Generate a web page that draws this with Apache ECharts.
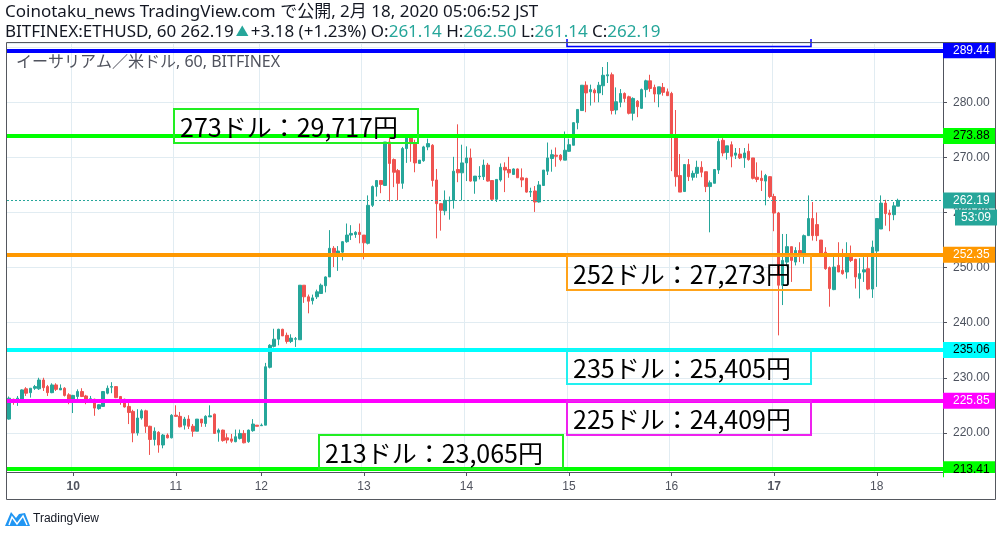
<!DOCTYPE html>
<html><head><meta charset="utf-8">
<script src="https://cdn.jsdelivr.net/npm/echarts@6/dist/echarts.min.js"></script>
<style>html,body{margin:0;padding:0;background:#fff}#c{width:1002px;height:537px}</style>
</head><body><div id="c"></div>
<script>
// ---- data (hourly ETH/USD candles) ----
const opens = [222.5,226.1,225.9,226.0,228.0,227.3,228.1,228.0,229.6,228.4,227.3,228.7,227.8,228.1,226.9,226.1,226.6,227.5,226.7,225.9,226.1,224.4,224.8,227.2,228.3,228.4,226.6,226.1,224.8,223.9,220.0,222.7,224.0,221.2,218.8,220.1,217.8,219.6,219.1,223.2,223.0,221.4,222.5,221.2,220.3,222.5,221.7,222.9,223.4,220.1,220.5,219.1,218.9,218.4,219.0,219.9,218.4,220.4,221.4,221.3,221.4,231.9,235.7,237.0,238.8,237.7,236.6,237.0,236.9,246.8,244.7,244.0,244.7,245.3,246.7,248.3,253.5,252.5,252.8,254.7,255.9,256.0,256.4,255.9,254.4,261.3,264.7,265.8,264.9,272.8,269.6,267.6,265.3,271.6,273.6,272.5,268.9,269.4,271.9,272.2,265.9,261.6,260.3,262.1,262.2,267.8,267.2,269.0,269.9,265.7,266.5,266.5,268.6,265.8,262.4,265.9,268.2,267.8,266.9,267.9,266.3,266.2,263.7,263.9,261.9,264.9,267.5,269.8,270.4,270.4,269.5,271.1,272.2,276.3,278.5,283.1,281.9,282.2,281.7,283.0,284.8,285.0,278.6,280.0,281.6,281.0,278.0,280.2,278.9,282.3,283.9,282.7,281.5,282.7,281.9,281.6,273.8,266.7,263.8,268.7,266.4,267.1,268.2,267.4,264.7,265.3,267.7,273.1,270.9,272.3,270.4,270.6,269.9,271.1,269.9,266.4,266.2,265.7,266.5,262.9,259.9,246.8,251.0,253.8,251.0,253.1,252.4,255.8,258.9,257.8,255.0,252.8,250.0,246.0,250.4,249.5,249.2,252.4,251.5,248.0,249.2,249.8,246.1,253.0,257.0,261.7,259.9,259.6,261.14];
const closes = [226.3,225.8,226.3,227.8,227.2,228.1,228.4,229.6,228.2,227.3,228.7,227.9,228.1,226.8,226.0,226.8,227.5,226.6,225.9,226.2,224.5,225.1,227.5,228.1,228.4,226.4,226.1,224.7,223.7,220.0,222.7,224.0,221.2,218.8,220.3,217.8,219.6,219.1,223.2,223.0,221.1,222.5,221.2,220.3,222.5,221.8,223.0,223.1,219.9,220.5,218.6,218.7,218.5,219.3,219.9,218.2,220.5,221.6,221.2,221.4,232.0,235.9,237.0,238.8,237.6,236.6,237.2,237.1,246.8,244.7,243.9,244.5,245.6,246.8,248.3,253.5,252.7,253.0,254.7,255.9,256.2,256.4,256.0,254.5,261.3,264.7,265.8,265.1,272.8,268.9,267.3,265.3,271.6,273.6,272.5,269.0,269.5,271.9,272.5,265.8,261.6,260.4,262.2,262.2,267.5,267.2,269.0,269.9,265.7,266.6,266.6,268.6,265.7,262.4,266.0,268.2,267.7,267.2,267.9,266.3,265.9,263.7,263.8,261.9,265.0,267.7,269.9,270.5,270.2,269.6,271.3,272.3,276.3,278.7,283.1,281.7,282.3,281.7,283.1,284.9,285.0,278.5,280.1,281.6,280.7,278.0,280.7,279.2,282.3,283.9,282.5,281.5,282.8,281.8,281.2,273.8,266.5,263.7,268.7,266.5,267.1,268.2,267.3,264.7,265.4,267.8,272.9,270.8,272.1,270.2,270.8,269.9,270.8,269.6,266.2,266.0,265.8,266.7,262.9,259.9,246.8,251.3,253.8,251.3,253.1,252.4,255.8,258.9,255.8,255.8,252.5,249.8,246.2,250.1,249.2,248.9,252.5,251.3,248.3,248.9,249.6,246.1,253.7,258.9,261.7,259.8,259.6,261.2,262.19];
const lows = [222.4,225.1,224.9,225.9,226.7,226.4,227.8,227.8,227.6,226.7,227.2,227.6,227.8,226.6,225.2,223.6,226.1,226.5,225.2,225.9,223.1,224.2,224.7,227.0,227.2,226.3,225.1,224.6,221.6,218.3,219.5,222.4,220.0,216.0,217.7,216.4,217.2,219.0,219.0,222.9,221.0,220.6,220.7,219.3,220.3,221.1,221.1,222.9,219.8,218.4,218.4,218.1,218.2,218.3,218.8,218.1,218.2,220.2,221.2,221.3,221.4,231.7,235.5,235.9,237.6,236.2,236.3,235.6,236.9,243.6,241.7,243.3,244.3,245.2,245.5,248.3,250.1,249.4,251.3,254.5,255.0,255.4,254.4,251.5,254.2,261.0,262.9,263.5,264.8,262.0,264.6,262.2,264.3,269.0,269.2,267.3,268.9,269.2,271.3,264.7,255.3,256.7,259.5,258.7,260.7,265.5,262.2,265.7,265.6,263.4,266.0,265.9,265.6,262.2,261.9,265.6,263.7,266.3,266.9,266.3,264.6,263.6,262.8,260.1,261.8,264.9,266.8,267.4,268.3,269.3,269.5,271.0,272.2,275.1,278.5,278.2,279.4,280.0,280.0,281.3,283.5,277.8,277.8,279.1,280.0,277.8,276.7,277.3,278.8,280.9,281.9,280.0,279.1,281.2,281.2,267.5,264.7,263.7,263.8,265.7,265.8,266.3,266.4,263.7,256.4,265.3,267.0,270.2,269.6,268.2,269.7,269.7,268.1,269.4,266.0,265.5,263.9,261.3,262.6,256.6,237.7,243.2,250.2,247.4,250.4,251.0,250.7,255.8,254.9,254.8,252.4,249.6,242.9,245.9,249.2,248.7,248.0,251.0,246.2,244.4,247.4,245.9,244.5,246.5,257.0,257.6,256.6,258.6,261.14];
const highs = [226.6,226.2,226.7,227.9,228.3,228.1,228.7,230.0,230.0,228.7,229.0,229.0,228.8,228.3,227.2,226.9,227.9,228.1,226.9,226.7,226.2,225.2,227.6,228.6,229.2,228.4,226.7,226.2,225.4,224.2,224.3,224.3,224.2,221.3,221.0,220.3,219.8,219.9,223.4,225.0,223.8,222.9,223.2,221.6,222.5,222.5,223.2,225.0,223.5,220.8,220.6,219.9,219.8,220.6,220.6,220.5,220.6,222.5,221.4,221.7,232.7,236.1,238.9,238.9,238.9,238.2,237.9,237.4,246.8,246.8,245.1,245.1,246.0,247.1,248.4,256.8,253.9,253.9,254.8,258.0,257.7,256.6,258.0,255.9,263.1,264.9,265.9,265.9,272.8,273.6,269.8,267.9,271.9,273.7,273.7,273.2,269.5,272.1,273.4,272.4,267.9,261.7,264.0,262.9,270.1,276.0,272.3,272.0,271.6,266.6,268.4,269.6,269.0,265.8,266.0,268.9,269.1,270.1,268.0,268.0,268.0,266.3,264.5,264.8,265.7,267.7,272.7,271.4,271.8,270.6,274.7,273.4,276.4,278.7,283.1,283.8,283.2,282.5,283.7,286.4,287.3,285.4,282.7,282.4,281.8,281.2,280.9,280.4,282.5,284.1,285.0,283.2,282.8,283.5,282.5,281.9,278.6,270.6,268.8,269.7,267.6,269.4,269.3,267.4,265.8,267.9,273.4,273.5,272.1,272.9,271.7,271.7,271.7,272.5,269.9,269.1,267.6,267.0,266.6,263.4,260.1,256.1,256.1,253.8,253.7,254.6,256.0,263.1,261.9,260.0,255.0,253.7,250.2,252.2,254.6,253.4,254.6,254.0,251.6,251.7,251.9,252.2,254.9,258.9,263.1,262.3,260.5,261.9,262.50];
const dayLabels = ['10','11','12','13','14','15','16','17','18'];
const dayStartIdx = [15,39,59,83,107,131,155,179,203];
const boldDays = ['10','17'];
const emptySlots = 10;
const levels = [289.44, 273.88, 252.35, 235.06, 225.85, 213.41];
const levelColors = ['#0000ff','#00ff00','#ff9800','#00ffff','#ff00ff','#00ff00'];
const levelTextColors = ['#ffffff','#000000','#ffffff','#000000','#ffffff','#000000'];
const lastPrice = 262.19;
const countdown = '53:09';
const noteTexts = ['273ドル：29,717円','252ドル：27,273円','235ドル：25,405円','225ドル：24,409円','213ドル：23,065円'];
const noteColors = ['#22ee22','#ffa31a','#22f0f0','#ee22ee','#22ee22'];
const headerLine1 = 'Coinotaku_news TradingView.com で公開, 2月 18, 2020 05:06:52 JST';
const symbolText = 'BITFINEX:ETHUSD, 60 262.19';
const changeText = '+3.18 (+1.23%)';
const ohlcLabels = ['O:','H:','L:','C:'];
const ohlcValues = ['261.14','262.50','261.14','262.19'];
const paneTitle = 'イーサリアム／米ドル, 60, BITFINEX';

// ---- build ----
const UP = '#26a69a', DOWN = '#ef5350';
const JP = '"Noto Sans CJK JP", "Noto Sans", sans-serif';
const HD = '"Noto Sans", "Noto Sans CJK JP", sans-serif';
const N = opens.length + emptySlots;
const categories = [];
for (let i = 0; i < N; i++) {
  const j = dayStartIdx.indexOf(i);
  categories.push(j >= 0 ? dayLabels[j] : '');
}
const candles = opens.map((o, i) => [o, closes[i], lows[i], highs[i]]);
const isDay = (i) => dayStartIdx.indexOf(i) >= 0;

const markData = levels.map((v, i) => ({
  yAxis: v,
  lineStyle: { color: levelColors[i], width: 4, type: 'solid', opacity: 1 },
  label: { show: true, position: 'end', distance: 0, formatter: v.toFixed(2),
    backgroundColor: levelColors[i], color: levelTextColors[i], fontSize: 12,
    fontFamily: 'Liberation Sans, Arial, sans-serif', padding: [2, 6, 2, 10], lineHeight: 12 }
}));
markData.push({
  yAxis: lastPrice,
  lineStyle: { color: UP, width: 1, type: [2, 2], opacity: 1 },
  label: { show: true, position: 'end', distance: 0, formatter: lastPrice.toFixed(2),
    backgroundColor: UP, color: '#fff', fontSize: 12,
    fontFamily: 'Liberation Sans, Arial, sans-serif', padding: [2, 6, 2, 10], lineHeight: 12 }
});

const chart = echarts.init(document.getElementById('c'), null, { renderer: 'canvas' });
const option = {
  animation: false,
  backgroundColor: '#fff',
  grid: { left: 7, right: 59, top: 43, bottom: 65, containLabel: false },
  xAxis: {
    type: 'category', data: categories, boundaryGap: true,
    axisLine: { show: true, lineStyle: { color: '#50535e', width: 1 } },
    axisTick: { show: true, alignWithLabel: true, length: 4, interval: (i) => isDay(i), lineStyle: { color: '#50535e' } },
    axisLabel: { show: true, interval: (i) => isDay(i), margin: 9, color: '#50535e', fontSize: 12,
      fontFamily: 'Liberation Sans, Arial, sans-serif',
      formatter: (v) => boldDays.indexOf(v) >= 0 ? '{b|' + v + '}' : v,
      rich: { b: { fontWeight: 'bold', fontSize: 12, color: '#50535e', fontFamily: 'Liberation Sans, Arial, sans-serif' } } },
    splitLine: { show: true, interval: (i) => isDay(i), lineStyle: { color: '#e1ecf2', width: 1 } }
  },
  yAxis: {
    type: 'value', position: 'right', min: 212.9, max: 290.76, splitNumber: 8, scale: true,
    axisLine: { show: true, lineStyle: { color: '#50535e', width: 1 } },
    axisTick: { show: true, length: 4, inside: false, lineStyle: { color: '#50535e' } },
    axisLabel: { show: true, margin: 10, color: '#4c525e', fontSize: 12, showMinLabel: false, showMaxLabel: false,
      fontFamily: 'Liberation Sans, Arial, sans-serif',
      formatter: (v) => (v > 285 || v < 215) ? '' : v.toFixed(2) },
    splitLine: { show: true, lineStyle: { color: '#e1ecf2', width: 1 } }
  },
  series: [{
    type: 'candlestick', data: candles, barWidth: 3,
    itemStyle: { color: UP, color0: DOWN, borderColor: UP, borderColor0: DOWN, borderWidth: 1 },
    markLine: { silent: true, symbol: ['none', 'none'], animation: false, precision: 2, data: markData }
  }]
};
chart.setOption(option);

// overlay elements
const yLast = chart.convertToPixel({ gridIndex: 0 }, [0, lastPrice])[1];
const noteBoxes = [
  { x: 174, y: 109 }, { x: 567, y: 256 }, { x: 567, y: 350 }, { x: 567, y: 401 }, { x: 319, y: 435 }
];
const g = [];
g.push({ type: 'rect', shape: { x: 6.5, y: 42.5, width: 989, height: 457 }, style: { fill: 'none', stroke: '#55585f', lineWidth: 1 }, z: 50 });
g.push({ type: 'rect', shape: { x: 944, y: 473, width: 51, height: 26 }, style: { fill: '#fff' }, z: 40 });
g.push({ type: 'text', x: 955, y: yLast + 9, style: { text: countdown, fill: '#fff', backgroundColor: UP,
  font: '12px "Liberation Sans", Arial, sans-serif', padding: [2, 6, 2, 6], lineHeight: 12 }, z: 60 });
g.push({ type: 'polyline', shape: { points: [[567, 39], [567, 46.5], [811, 46.5], [811, 39]] }, style: { stroke: '#0000ff', lineWidth: 1.5, fill: 'none' }, z: 45 });
noteTexts.forEach((t, i) => {
  const b = noteBoxes[i];
  g.push({ type: 'rect', shape: { x: b.x, y: b.y, width: 244, height: 34 }, style: { fill: 'none', stroke: noteColors[i], lineWidth: 2 }, z: 30 });
  g.push({ type: 'text', x: b.x + 6, y: b.y + 18, style: { text: t, fill: '#000', font: '25px ' + JP, verticalAlign: 'middle' }, z: 31 });
});
g.push({ type: 'text', x: 5, y: 12, style: { text: headerLine1, fill: '#131722', font: '17px ' + HD, verticalAlign: 'middle' }, z: 60 });
g.push({ type: 'text', x: 5, y: 32, style: {
  text: '{s|' + symbolText + '}{u|▲}{s|' + changeText + ' }' + ohlcLabels.map((l, i) => '{s|' + l + '}{v|' + ohlcValues[i] + '}').join('{s| }'),
  verticalAlign: 'middle',
  rich: { s: { fill: '#131722', font: '17px ' + HD }, v: { fill: UP, font: '17px ' + HD }, u: { fill: UP, font: '13px ' + HD, padding: [0, 2, 0, 2] } }
}, z: 60 });
g.push({ type: 'text', x: 16, y: 62, style: { text: paneTitle, fill: '#50535e', font: '16px ' + HD, verticalAlign: 'middle' }, z: 60 });
g.push({ type: 'polygon', shape: { points: [[5, 526], [11, 512], [16, 518], [19, 514], [25, 513], [30, 526]] }, style: { fill: '#2196f3' }, z: 60 });
g.push({ type: 'polyline', shape: { points: [[9, 525], [12, 517], [17, 524], [23, 516], [27, 525]] }, style: { stroke: '#fff', lineWidth: 1.5, fill: 'none' }, z: 61 });
g.push({ type: 'text', x: 33, y: 519, style: { text: 'TradingView', fill: '#131722', font: '12px "Liberation Sans Narrow", "Liberation Sans", Arial, sans-serif', verticalAlign: 'middle' }, z: 60 });
chart.setOption({ graphic: { elements: g } });
</script></body></html>
